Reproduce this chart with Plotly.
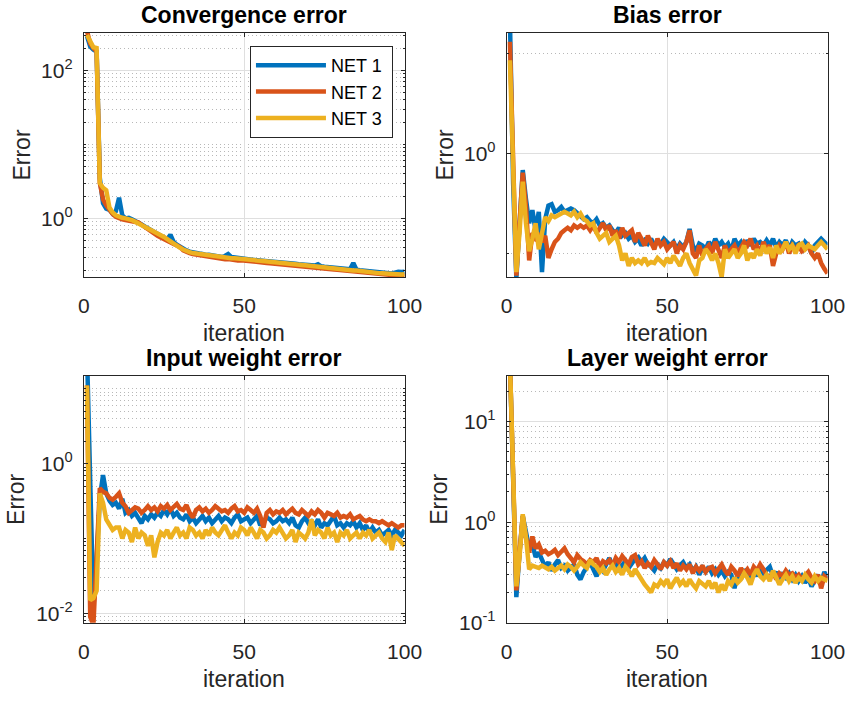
import plotly.graph_objects as go

iters = list(range(1, 101))
net_names = ["NET 1", "NET 2", "NET 3"]
net_colors = ["#0072BD", "#D95319", "#EDB120"]

# ---------------- Convergence error ----------------
conv_net1 = [290, 210, 190, 180, 3.5, 1.6, 1.35, 1.3, 1.15, 1.25,
             1.9, 1.1, 1.0, 1.02, 0.97, 0.93, 0.88, 0.83, 0.78, 0.74,
             0.7, 0.66, 0.63, 0.6, 0.56, 0.52, 0.6, 0.48, 0.44, 0.41,
             0.39, 0.37, 0.355, 0.345, 0.34, 0.335, 0.33, 0.32, 0.322, 0.315,
             0.31, 0.305, 0.30, 0.31, 0.33, 0.3, 0.295, 0.29, 0.288, 0.29,
             0.283, 0.28, 0.275, 0.272, 0.27, 0.27, 0.265, 0.26, 0.262, 0.256,
             0.255, 0.252, 0.25, 0.248, 0.25, 0.243, 0.24, 0.238, 0.236, 0.233,
             0.232, 0.23, 0.24, 0.225, 0.222, 0.22, 0.218, 0.216, 0.213, 0.211,
             0.21, 0.207, 0.205, 0.25, 0.203, 0.199, 0.197, 0.195, 0.192, 0.19,
             0.188, 0.186, 0.185, 0.183, 0.182, 0.18, 0.185, 0.19, 0.188, 0.19]
conv_net2 = [340, 230, 200, 180, 3.0, 1.8, 1.5, 1.3, 1.15, 1.05,
             1.0, 0.97, 0.95, 0.93, 0.92, 0.9, 0.88, 0.82, 0.76, 0.71,
             0.66, 0.62, 0.58, 0.55, 0.52, 0.49, 0.46, 0.45, 0.43, 0.41,
             0.37, 0.35, 0.34, 0.33, 0.325, 0.315, 0.31, 0.305, 0.3, 0.295,
             0.29, 0.288, 0.285, 0.28, 0.283, 0.276, 0.273, 0.27, 0.272, 0.268,
             0.265, 0.262, 0.26, 0.257, 0.255, 0.253, 0.25, 0.248, 0.246, 0.244,
             0.242, 0.24, 0.238, 0.235, 0.233, 0.23, 0.228, 0.226, 0.224, 0.222,
             0.22, 0.218, 0.215, 0.213, 0.21, 0.208, 0.206, 0.204, 0.202, 0.2,
             0.198, 0.196, 0.194, 0.192, 0.19, 0.188, 0.186, 0.184, 0.182, 0.18,
             0.178, 0.176, 0.174, 0.172, 0.17, 0.169, 0.168, 0.167, 0.166, 0.165]
conv_net3 = [300, 240, 205, 200, 3.0, 2.6, 2.4, 1.4, 1.2, 1.1,
             1.05, 1.02, 1.0, 0.98, 0.95, 0.9, 0.85, 0.8, 0.76, 0.72,
             0.69, 0.66, 0.62, 0.59, 0.56, 0.52, 0.49, 0.46, 0.43, 0.4,
             0.38, 0.36, 0.35, 0.34, 0.335, 0.33, 0.326, 0.32, 0.317, 0.31,
             0.306, 0.3, 0.299, 0.295, 0.292, 0.29, 0.289, 0.285, 0.283, 0.28,
             0.279, 0.275, 0.273, 0.27, 0.268, 0.266, 0.262, 0.26, 0.259, 0.255,
             0.253, 0.25, 0.249, 0.245, 0.244, 0.24, 0.239, 0.235, 0.233, 0.23,
             0.229, 0.226, 0.224, 0.221, 0.219, 0.216, 0.215, 0.212, 0.211, 0.208,
             0.206, 0.203, 0.201, 0.198, 0.197, 0.194, 0.193, 0.19, 0.189, 0.186,
             0.185, 0.182, 0.181, 0.179, 0.178, 0.177, 0.176, 0.175, 0.175, 0.176]

# ---------------- Bias error ----------------
bias_net1 = [22, 0.5, 0.056, 0.2, 0.68, 0.35, 0.2, 0.27, 0.17, 0.26,
             0.065, 0.22, 0.3, 0.31, 0.26, 0.27, 0.29, 0.26, 0.27, 0.28,
             0.27, 0.25, 0.24, 0.22, 0.23, 0.21, 0.2, 0.22, 0.19, 0.2,
             0.18, 0.19, 0.17, 0.16, 0.18, 0.15, 0.16, 0.14, 0.15, 0.13,
             0.14, 0.12, 0.135, 0.125, 0.14, 0.12, 0.13, 0.125, 0.14, 0.13,
             0.12, 0.13, 0.11, 0.125, 0.115, 0.13, 0.175, 0.12, 0.105, 0.125,
             0.12, 0.11, 0.13, 0.115, 0.14, 0.12, 0.13, 0.115, 0.125, 0.105,
             0.14, 0.12, 0.13, 0.11, 0.135, 0.12, 0.14, 0.125, 0.13, 0.12,
             0.135, 0.12, 0.14, 0.115, 0.13, 0.12, 0.135, 0.11, 0.13, 0.12,
             0.125, 0.11, 0.13, 0.12, 0.1, 0.12, 0.13, 0.14, 0.13, 0.12]
bias_net2 = [13, 0.5, 0.06, 0.2, 0.64, 0.3, 0.085, 0.16, 0.14, 0.15,
             0.13, 0.15, 0.09, 0.11, 0.13, 0.14, 0.16, 0.17, 0.18, 0.17,
             0.19, 0.18, 0.19, 0.18, 0.19, 0.17, 0.19, 0.16, 0.18, 0.2,
             0.17, 0.19, 0.15, 0.17, 0.14, 0.18, 0.15, 0.16, 0.17, 0.13,
             0.16, 0.14, 0.12, 0.15, 0.13, 0.11, 0.14, 0.12, 0.13, 0.11,
             0.12, 0.13, 0.1, 0.12, 0.11, 0.13, 0.17, 0.1, 0.09, 0.12,
             0.095, 0.11, 0.12, 0.1, 0.13, 0.11, 0.09, 0.12, 0.1, 0.11,
             0.12, 0.1, 0.115, 0.13, 0.12, 0.14, 0.11, 0.12, 0.1, 0.13,
             0.11, 0.12, 0.075, 0.1, 0.12, 0.11, 0.13, 0.1, 0.12, 0.11,
             0.12, 0.105, 0.11, 0.12, 0.1, 0.09, 0.1, 0.08, 0.07, 0.063]
bias_net3 = [8.5, 0.5, 0.065, 0.16, 0.52, 0.2, 0.105, 0.14, 0.2, 0.11,
             0.16, 0.23, 0.21, 0.24, 0.23, 0.24, 0.25, 0.26, 0.25, 0.24,
             0.26, 0.23, 0.25, 0.22, 0.21, 0.19, 0.2, 0.16, 0.14, 0.15,
             0.16, 0.13, 0.14, 0.15, 0.12, 0.085, 0.1, 0.075, 0.09, 0.08,
             0.085, 0.08, 0.09, 0.078, 0.082, 0.08, 0.09, 0.085, 0.078, 0.09,
             0.08, 0.095, 0.085, 0.075, 0.09, 0.1, 0.08, 0.07, 0.06, 0.085,
             0.09, 0.11, 0.1, 0.085, 0.1, 0.08, 0.058, 0.11, 0.09, 0.1,
             0.11, 0.09, 0.1, 0.12, 0.085, 0.1, 0.09, 0.11, 0.095, 0.12,
             0.1, 0.115, 0.09, 0.12, 0.1, 0.11, 0.13, 0.11, 0.12, 0.1,
             0.12, 0.125, 0.11, 0.12, 0.115, 0.11, 0.12, 0.13, 0.12, 0.11]

# ---------------- Input weight error ----------------
iw_net1 = [30, 0.5, 0.012, 0.05, 0.35, 0.7, 0.4, 0.32, 0.28, 0.3,
           0.25, 0.34, 0.22, 0.24, 0.2, 0.22, 0.19, 0.16, 0.2, 0.18,
           0.21, 0.19, 0.22, 0.2, 0.24, 0.21, 0.25, 0.2, 0.22, 0.19,
           0.18, 0.21, 0.17, 0.19, 0.16, 0.18, 0.2, 0.17, 0.19, 0.16,
           0.18, 0.2, 0.17, 0.19, 0.18, 0.16, 0.19, 0.21, 0.17, 0.18,
           0.19, 0.16, 0.18, 0.2, 0.15, 0.17, 0.19, 0.18, 0.16, 0.17,
           0.19, 0.17, 0.18, 0.16, 0.19, 0.15, 0.14, 0.17, 0.19, 0.16,
           0.17, 0.15, 0.18, 0.14, 0.16, 0.15, 0.17, 0.2, 0.15, 0.16,
           0.14, 0.16, 0.15, 0.17, 0.14, 0.16, 0.13, 0.15, 0.12, 0.14,
           0.12, 0.13, 0.11, 0.12, 0.13, 0.11, 0.13, 0.12, 0.11, 0.13]
iw_net2 = [11, 0.009, 0.007, 0.05, 0.47, 0.42, 0.4, 0.35, 0.33, 0.36,
           0.4, 0.3, 0.27, 0.22, 0.24, 0.26, 0.25, 0.22, 0.24, 0.27,
           0.24, 0.26, 0.23, 0.27, 0.25, 0.28, 0.24, 0.27, 0.29, 0.25,
           0.24, 0.28, 0.22, 0.19, 0.24, 0.26, 0.23, 0.25, 0.22, 0.24,
           0.27, 0.25, 0.23, 0.24, 0.22, 0.25, 0.27, 0.23, 0.24, 0.22,
           0.26, 0.24, 0.22, 0.25, 0.2, 0.14, 0.22, 0.24, 0.21, 0.23,
           0.22, 0.24, 0.21, 0.23, 0.25, 0.22, 0.21, 0.24, 0.22, 0.2,
           0.23, 0.21, 0.24, 0.22, 0.19, 0.22, 0.21, 0.2, 0.22, 0.19,
           0.2, 0.19, 0.21, 0.18, 0.19, 0.2, 0.18, 0.17, 0.18, 0.17,
           0.17, 0.16, 0.17, 0.16, 0.15, 0.16, 0.15, 0.14, 0.15, 0.15]
iw_net3 = [11, 0.015, 0.016, 0.02, 0.4, 0.3, 0.18, 0.15, 0.13, 0.14,
           0.14, 0.1, 0.13, 0.12, 0.09, 0.14, 0.1, 0.12, 0.11, 0.08,
           0.11, 0.056, 0.09, 0.12, 0.11, 0.13, 0.1, 0.12, 0.14, 0.11,
           0.12, 0.1, 0.14, 0.13, 0.11, 0.12, 0.1, 0.13, 0.11, 0.14,
           0.12, 0.11, 0.13, 0.15, 0.12, 0.1, 0.12, 0.11, 0.14, 0.13,
           0.11, 0.14, 0.12, 0.1, 0.13, 0.12, 0.1, 0.11, 0.13, 0.12,
           0.14, 0.12, 0.1, 0.11, 0.13, 0.09, 0.12, 0.11, 0.1, 0.12,
           0.18, 0.11, 0.13, 0.12, 0.1, 0.14, 0.11, 0.12, 0.09, 0.12,
           0.11, 0.13, 0.1, 0.11, 0.12, 0.1, 0.12, 0.11, 0.13, 0.1,
           0.11, 0.12, 0.1, 0.09, 0.12, 0.07, 0.11, 0.1, 0.09, 0.08]

# ---------------- Layer weight error ----------------
lw_net1 = [40, 2, 0.18, 0.5, 1.15, 0.8, 0.55, 0.6, 0.45, 0.5,
           0.42, 0.36, 0.4, 0.33, 0.38, 0.42, 0.35, 0.37, 0.33, 0.36,
           0.38, 0.3, 0.27, 0.32, 0.36, 0.4, 0.34, 0.29, 0.37, 0.33,
           0.38, 0.44, 0.36, 0.4, 0.34, 0.38, 0.41, 0.35, 0.39, 0.43,
           0.45, 0.4, 0.44, 0.38, 0.36, 0.33, 0.38, 0.35, 0.4, 0.37,
           0.43, 0.39, 0.34, 0.37, 0.4, 0.35, 0.38, 0.33, 0.36, 0.3,
           0.35, 0.32, 0.36, 0.31, 0.34, 0.3, 0.33, 0.29, 0.32, 0.3,
           0.22, 0.31, 0.27, 0.34, 0.3, 0.28, 0.33, 0.29, 0.35, 0.31,
           0.33, 0.36, 0.29, 0.32, 0.25, 0.3, 0.28, 0.31, 0.27, 0.3,
           0.26, 0.29, 0.25, 0.28, 0.23, 0.27, 0.3, 0.25, 0.32, 0.28]
lw_net2 = [40, 2, 0.21, 0.5, 1.15, 0.7, 0.5, 0.72, 0.55, 0.6,
           0.5, 0.52, 0.48, 0.5, 0.53, 0.47, 0.5, 0.55, 0.48, 0.44,
           0.4, 0.47, 0.43, 0.41, 0.38, 0.42, 0.4, 0.44, 0.36, 0.41,
           0.39, 0.42, 0.37, 0.44, 0.4, 0.46, 0.41, 0.38, 0.45, 0.47,
           0.38, 0.41, 0.35, 0.39, 0.36, 0.42, 0.38, 0.34, 0.4, 0.37,
           0.41, 0.35, 0.39, 0.33, 0.37, 0.34, 0.38, 0.31, 0.36, 0.33,
           0.37, 0.32, 0.35, 0.36, 0.31, 0.34, 0.38, 0.33, 0.3, 0.36,
           0.33, 0.29, 0.35, 0.31, 0.34, 0.3, 0.36, 0.33, 0.38, 0.34,
           0.3, 0.28, 0.32, 0.27, 0.31, 0.29, 0.33, 0.3, 0.31, 0.28,
           0.3, 0.27, 0.29, 0.32, 0.28, 0.26, 0.3, 0.22, 0.29, 0.27]
lw_net3 = [40, 2, 0.23, 0.45, 1.2, 0.7, 0.34, 0.37, 0.36, 0.35,
           0.37, 0.35, 0.34, 0.36, 0.33, 0.35, 0.37, 0.34, 0.38, 0.36,
           0.33, 0.36, 0.4, 0.37, 0.35, 0.42, 0.38, 0.36, 0.32, 0.35,
           0.3, 0.34, 0.37, 0.32, 0.35, 0.3, 0.36, 0.33, 0.29, 0.34,
           0.3, 0.26, 0.24, 0.22, 0.2, 0.24, 0.23, 0.26, 0.24, 0.27,
           0.22, 0.25, 0.28, 0.24, 0.26, 0.23, 0.27, 0.24, 0.22, 0.26,
           0.24, 0.23, 0.26, 0.22, 0.25, 0.2, 0.24, 0.21, 0.26, 0.24,
           0.28, 0.25, 0.27, 0.31, 0.28, 0.24, 0.3, 0.34, 0.29, 0.27,
           0.3, 0.26, 0.33, 0.28, 0.24, 0.27, 0.3, 0.26, 0.29, 0.25,
           0.28, 0.26, 0.3, 0.27, 0.25, 0.29, 0.26, 0.28, 0.27, 0.26]

panel_titles = ["Convergence error", "Bias error", "Input weight error", "Layer weight error"]
x_ticks = [0, 50, 100]
y_ticks = [[1, 100], [1], [0.01, 1], [0.1, 1, 10]]
y_ticklabels = [["10<sup>0</sup>", "10<sup>2</sup>"], ["10<sup>0</sup>"],
                ["10<sup>-2</sup>", "10<sup>0</sup>"],
                ["10<sup>-1</sup>", "10<sup>0</sup>", "10<sup>1</sup>"]]
y_ranges = [[-0.796, 2.508], [-1.239, 1.204], [-2.125, 1.173], [-1.0, 1.456]]

W, H = 865, 701
FONT = "Liberation Sans, Arial, Helvetica, sans-serif"
AX = "#262626"

# pixel boxes of the four axes: (left, right, top, bottom)
boxes = [(80, 410, 33.3, 281.7), (515, 845, 33.3, 281.7),
         (80, 410, 381.7, 632.7), (515, 845, 381.7, 632.7)]


def minor_vals(lo, hi, majors, all_k=True):
    vals = []
    for n in range(-4, 4):
        for k in (range(1, 10) if all_k else [1]):
            v = k * 10 ** n
            if 10 ** lo <= v <= 10 ** hi and all(abs(v - m) > 1e-12 for m in majors):
                vals.append(v)
    return vals


minor_sets = [minor_vals(*y_ranges[0], y_ticks[0]),
              minor_vals(*y_ranges[1], y_ticks[1], all_k=False),
              minor_vals(*y_ranges[2], y_ticks[2]),
              minor_vals(*y_ranges[3], y_ticks[3])]

panel_data = [(conv_net1, conv_net2, conv_net3), (bias_net1, bias_net2, bias_net3),
              (iw_net1, iw_net2, iw_net3), (lw_net1, lw_net2, lw_net3)]

fig = go.Figure()
layout = dict(width=W, height=H, margin=dict(l=0, r=0, t=0, b=0),
              paper_bgcolor="white", plot_bgcolor="white",
              font=dict(family=FONT, color=AX), annotations=[])

for p in range(4):
    sfx = "" if p == 0 else str(p + 1)
    for s in range(3):
        fig.add_trace(go.Scatter(
            x=iters, y=panel_data[p][s], mode="lines",
            name=net_names[s] + "\u00a0",
            line=dict(color=net_colors[s], width=4.5),
            showlegend=(p == 0), xaxis="x" + sfx, yaxis="y" + sfx,
            cliponaxis=True))
    l, r, t, b = boxes[p]
    layout["xaxis" + sfx] = dict(
        domain=[l / W, r / W], anchor="y" + sfx, range=[0, 100],
        tickmode="array", tickvals=x_ticks, ticks="inside", ticklen=4,
        tickcolor=AX, showline=True, linecolor=AX, linewidth=1, mirror="ticks",
        showgrid=True, gridcolor="#dfdfdf", gridwidth=1, zeroline=False,
        tickfont=dict(size=21, color=AX, family=FONT), ticklabelstandoff=10)
    layout["yaxis" + sfx] = dict(
        domain=[1 - b / H, 1 - t / H], anchor="x" + sfx, type="log",
        range=y_ranges[p], tickmode="array", tickvals=y_ticks[p],
        ticktext=y_ticklabels[p], ticks="inside", ticklen=4, tickcolor=AX,
        showline=True, linecolor=AX, linewidth=1, mirror="ticks",
        showgrid=True, gridcolor="#dfdfdf", gridwidth=1, zeroline=False,
        tickfont=dict(size=21, color=AX, family=FONT), ticklabelstandoff=6,
        minor=dict(tickmode="array", tickvals=minor_sets[p], ticks="inside",
                   ticklen=2, tickcolor=AX, showgrid=True, gridcolor="#b8b8b8",
                   griddash="1px,3px", gridwidth=1))
    cx = (l + r) / 2 / W
    layout["annotations"].append(dict(
        text="<b>" + panel_titles[p] + "</b>", x=cx, y=1 - (t - 3) / H,
        xref="paper", yref="paper", xanchor="center", yanchor="bottom",
        showarrow=False, font=dict(size=23, color="black", family=FONT)))
    layout["annotations"].append(dict(
        text="iteration", x=cx, y=1 - (b + 57) / H, xref="paper", yref="paper",
        xanchor="center", yanchor="middle", showarrow=False,
        font=dict(size=23, color=AX, family=FONT)))
    ex = [17, 452, 11, 446][p]
    layout["annotations"].append(dict(
        text="Error", x=ex / W, y=1 - ((t + b) / 2) / H, xref="paper", yref="paper",
        xanchor="center", yanchor="middle", textangle=-90, showarrow=False,
        font=dict(size=23, color=AX, family=FONT)))

layout["legend"] = dict(x=398 / W, y=1 - 46.7 / H, xanchor="right", yanchor="top",
                        bgcolor="white", bordercolor=AX, borderwidth=1,
                        font=dict(size=18, color="black", family=FONT),
                        itemwidth=70, tracegroupgap=0)
fig.update_layout(**layout)
fig.write_html("out.html")
